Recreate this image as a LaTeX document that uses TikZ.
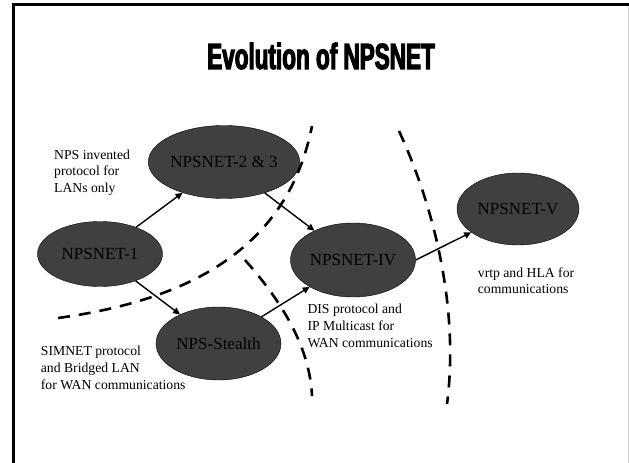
\documentclass[tikz,border=0pt]{standalone}
\usepackage{fontspec}
\setmainfont{Liberation Serif}
\newfontfamily\titlefont{Liberation Sans}[FakeStretch=0.62,FakeBold=3]
\usetikzlibrary{arrows.meta,shapes.geometric}
\definecolor{nodegray}{RGB}{64,64,64}

\begin{document}
\begin{tikzpicture}[x=1bp,y=-1bp,
  gen/.style={ellipse, draw=black, fill=nodegray, inner sep=0pt,
    minimum width=125bp, minimum height=73bp,
    font=\fontsize{17bp}{20bp}\selectfont},
  note/.style={anchor=base west, align=left, inner sep=0pt,
    font=\fontsize{13.7bp}{16.6bp}\selectfont},
  link/.style={-{Triangle[length=7bp,width=6.5bp]}, line width=1.4bp},
  split/.style={dash pattern=on 12bp off 9bp, line width=2.6bp}]
  \useasboundingbox (0,0) rectangle (629,463);
  \draw[gray!35, line width=1bp] (628,4.5) -- (628,463);
  \draw[line width=2.5bp] (13.5,463) -- (13.5,4.5) -- (629,4.5);

  \node[anchor=base, inner sep=0pt,
    font=\titlefont\bfseries\fontsize{36.3bp}{40bp}\selectfont]
    (title) at (321,69) {Evolution of NPSNET};

  \node[gen, minimum height=65bp] (n1) at (100,254) {NPSNET-1};
  \node[gen] (n23)     at (224,162)   {NPSNET-2 \& 3};
  \node[gen] (stealth) at (218.5,343.5) {NPS-Stealth};
  \node[gen, minimum height=74bp] (n4) at (353,260) {NPSNET-IV};
  \node[gen, minimum width=122bp, minimum height=72bp] (n5) at (518,209) {NPSNET-V};

  \draw[split] (58,318) .. controls (190,300) and (288,248) .. (312,126);
  \draw[split] (245,260) .. controls (285,305) and (310,350) .. (312,396);
  \draw[split] (399,131) .. controls (440,220) and (458,320) .. (447,404);

  \draw[link] (n1) -- (n23);
  \draw[link] (n1) -- (stealth);
  \draw[link] (n23) -- (n4);
  \draw[link] (stealth) -- (n4);
  \draw[link] (n4.east) -- (n5);

  \node[note] (lan)    at (54,192.5)   {NPS invented\\protocol for\\LANs only};
  \node[note] (simnet) at (40.7,389)   {SIMNET protocol\\and Bridged LAN\\for WAN communications};
  \node[note] (dis)    at (307.3,347.2) {DIS protocol and\\IP Multicast for\\WAN communications};
  \node[note] (hla)    at (477.7,293.9) {vrtp and HLA for\\communications};
\end{tikzpicture}
\end{document}
